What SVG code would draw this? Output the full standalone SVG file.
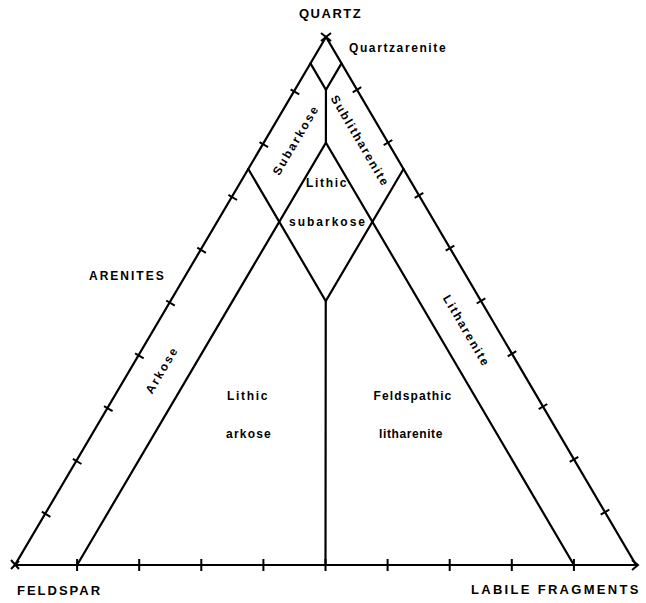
<svg xmlns="http://www.w3.org/2000/svg" width="646" height="603" viewBox="0 0 646 603">
<style>
.ln{stroke:#000;stroke-width:2.2;fill:none;stroke-linecap:round}
.tk{stroke:#000;stroke-width:2;fill:none}
.cap{font-family:"Liberation Sans",Arial,sans-serif;font-weight:bold;font-size:13px;letter-spacing:2px;fill:#000}
.lab{font-family:"Liberation Sans",Arial,sans-serif;font-weight:bold;font-size:12px;letter-spacing:1.5px;fill:#000}
.rl{font-family:"Liberation Sans",Arial,sans-serif;font-weight:bold;font-size:12px;letter-spacing:2px;fill:#000}
</style>
<rect width="646" height="603" fill="#fff"/>
<g id="connectors">
<path class="ln" d="M326,37 L15,565 L636,565 Z"/>
<path class="ln" d="M310.45,63.4 L325.95,89.8 L341.5,63.4"/>
<path class="ln" d="M325.95,89.8 L325.9,142.6"/>
<path class="ln" d="M77.1,565 L325.9,142.6 L573.9,565"/>
<path class="ln" d="M248.25,169 L325.75,301 L403.5,169"/>
<path class="ln" d="M325.75,301 L325.5,565"/>
</g>
<g id="ticks">
<path class="tk" d="M290.6,89.3 l8.6,5.1 M259.5,142.1 l8.6,5.1 M228.4,194.9 l8.6,5.1 M197.3,247.7 l8.6,5.1 M166.2,300.5 l8.6,5.1 M135.1,353.3 l8.6,5.1 M104.0,406.1 l8.6,5.1 M72.9,458.9 l8.6,5.1 M41.8,511.7 l8.6,5.1"/>
<path class="tk" d="M352.7,92.3 l8.6,-5.1 M383.7,145.1 l8.6,-5.1 M414.7,197.9 l8.6,-5.1 M445.7,250.7 l8.6,-5.1 M476.7,303.5 l8.6,-5.1 M507.7,356.3 l8.6,-5.1 M538.7,409.1 l8.6,-5.1 M569.7,461.9 l8.6,-5.1 M600.7,514.7 l8.6,-5.1"/>
<path class="tk" d="M77.1,559 v12 M139.2,559 v12 M201.3,559 v12 M263.4,559 v12 M325.5,559 v12 M387.6,559 v12 M449.7,559 v12 M511.8,559 v12 M573.9,559 v12"/>
<path class="tk" stroke-width="2.6" d="M321,33 l10,8 M331,33 l-10,8"/>
<path class="tk" stroke-width="2.6" d="M11,560 l8,9 M11,569 l8,-8 M632,560 l6,5 l-6,5"/>
</g>
<g id="corner-labels">
<text class="cap" x="299" y="18" style="letter-spacing:1.5px">QUARTZ</text>
<text class="cap" x="17" y="595">FELDSPAR</text>
<text class="cap" x="471" y="594" style="letter-spacing:2.3px">LABILE FRAGMENTS</text>
</g>
<g id="field-labels">
<text class="lab" x="349" y="52" style="letter-spacing:1.6px">Quartzarenite</text>
<text class="lab" x="89" y="280" style="letter-spacing:2px">ARENITES</text>
<text class="lab" x="327" y="187" text-anchor="middle" style="letter-spacing:1.7px">Lithic</text>
<text class="lab" x="328" y="226" text-anchor="middle" style="letter-spacing:2px">subarkose</text>
<text class="lab" x="248" y="400" text-anchor="middle" style="letter-spacing:1.7px">Lithic</text>
<text class="lab" x="249" y="438" text-anchor="middle" style="letter-spacing:1.2px">arkose</text>
<text class="lab" x="413" y="400" text-anchor="middle" style="letter-spacing:1.1px">Feldspathic</text>
<text class="lab" x="411" y="438" text-anchor="middle" style="letter-spacing:0.6px">litharenite</text>
</g>
<g id="rotated-labels">
<text class="rl" text-anchor="middle" transform="translate(162,370) rotate(-59.45)" y="4">Arkose</text>
<text class="rl" text-anchor="middle" transform="translate(296,140) rotate(-59.45)" y="4">Subarkose</text>
<text class="rl" text-anchor="middle" transform="translate(360,141) rotate(59.5)" y="4" style="letter-spacing:1.7px">Sublitharenite</text>
<text class="rl" text-anchor="middle" transform="translate(466.5,331) rotate(59.5)" y="4" style="letter-spacing:1.8px">Litharenite</text>
</g>
</svg>
